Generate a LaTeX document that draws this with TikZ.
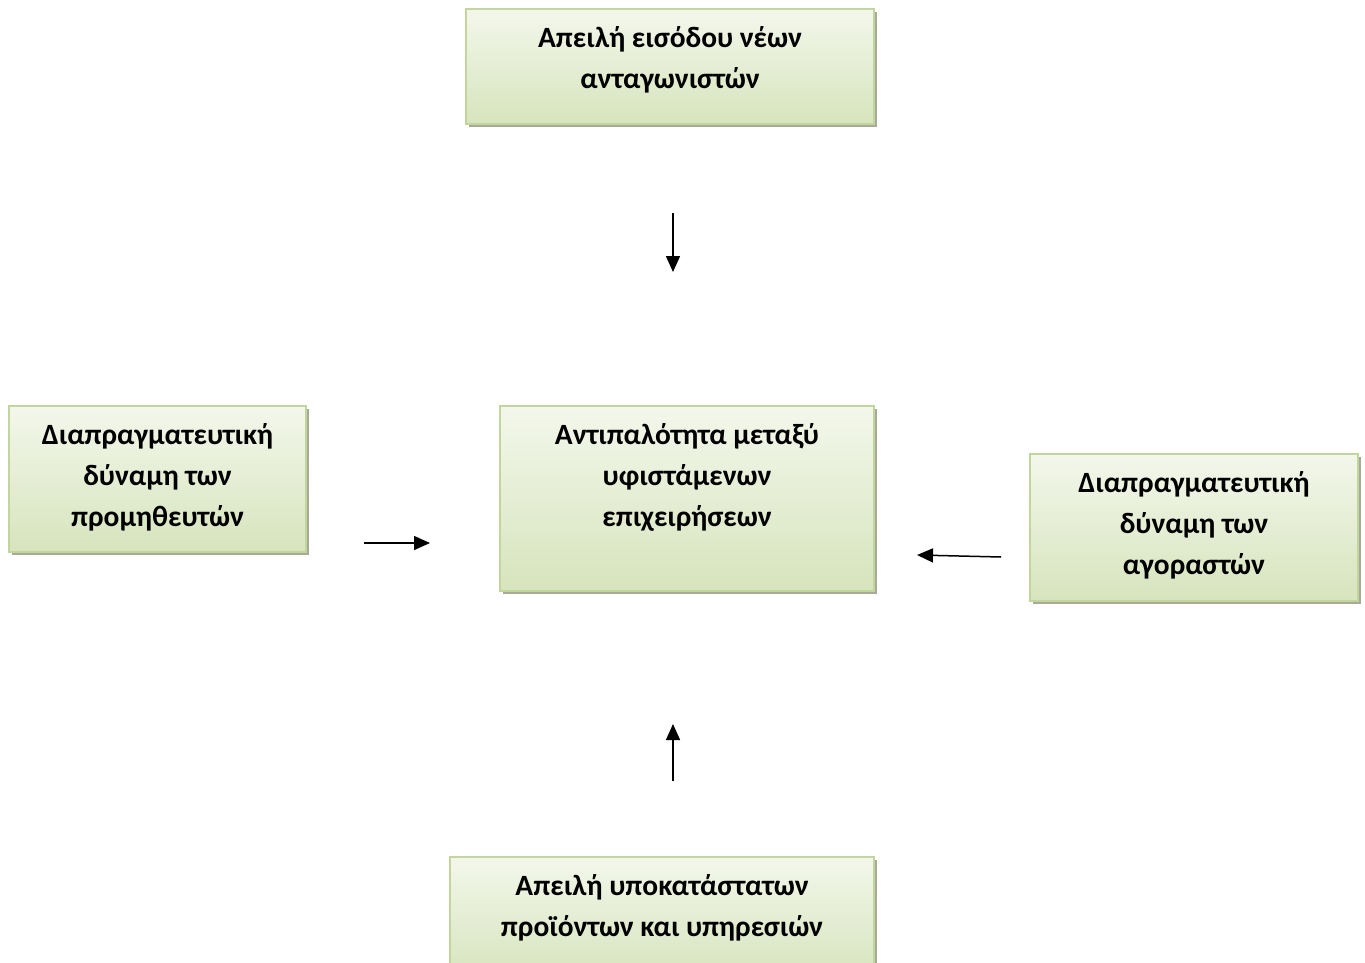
\documentclass[tikz,border=0pt]{standalone}
\usepackage{fontspec}
\setmainfont{Carlito}
\usetikzlibrary{arrows.meta,positioning,shadows}

\definecolor{boxline}{HTML}{C2D69B}
\definecolor{boxfill}{HTML}{D7E4BD}
\definecolor{boxshade}{HTML}{A6AA98}

\begin{document}
\begin{tikzpicture}[
    x=0.5pt,y=-0.5pt,
    force/.style={draw=boxline,line width=1pt,top color=white!70!boxfill,bottom color=boxfill,
                  drop shadow={shadow xshift=1.6pt,shadow yshift=-1.6pt,fill=boxshade,opacity=1},
                  anchor=north west,inner sep=0pt},
    forcetext/.style={anchor=north,align=center,inner sep=0pt,
                      font=\fontsize{14.7pt}{20.5pt}\selectfont\bfseries},
    push/.style={-{Triangle[length=8pt,width=7pt]},line width=0.75pt}
]
\useasboundingbox (0,0) rectangle (1365,963);
% boxes
\node[force,minimum width=204pt,minimum height=57.5pt] (entrants) at (465,8) {};
\node[force,minimum width=148.5pt,minimum height=73pt] (suppliers) at (8,405) {};
\node[force,minimum width=187pt,minimum height=92.5pt] (rivalry) at (499,405) {};
\node[force,minimum width=164pt,minimum height=73.5pt] (buyers) at (1029,453) {};
\node[force,minimum width=212pt,minimum height=60pt] (substitutes) at (449,856) {};
% texts
\node[forcetext] (entrantstext) at ([yshift=-9.3pt]entrants.north) {Απειλή εισόδου νέων\\ανταγωνιστών};
\node[forcetext] (supplierstext) at ([yshift=-9.3pt]suppliers.north) {Διαπραγματευτική\\δύναμη των\\προμηθευτών};
\node[forcetext] (rivalrytext) at ([yshift=-9.3pt]rivalry.north) {Αντιπαλότητα μεταξύ\\υφιστάμενων\\επιχειρήσεων};
\node[forcetext] (buyerstext) at ([yshift=-9.3pt]buyers.north) {Διαπραγματευτική\\δύναμη των\\αγοραστών};
\node[forcetext] (substitutestext) at ([yshift=-9.3pt]substitutes.north) {Απειλή υποκατάστατων\\προϊόντων και υπηρεσιών};
% arrows
\coordinate (topstart) at (673,213);
\coordinate (topend) at (673,272);
\coordinate (leftstart) at (364,543);
\coordinate (leftend) at (430,543);
\coordinate (rightstart) at (1001,557);
\coordinate (rightend) at (917,555);
\coordinate (bottomstart) at (673,781);
\coordinate (bottomend) at (673,724);
\draw[push] (topstart)--(topend);
\draw[push] (leftstart)--(leftend);
\draw[push] (rightstart)--(rightend);
\draw[push] (bottomstart)--(bottomend);
\end{tikzpicture}
\end{document}
